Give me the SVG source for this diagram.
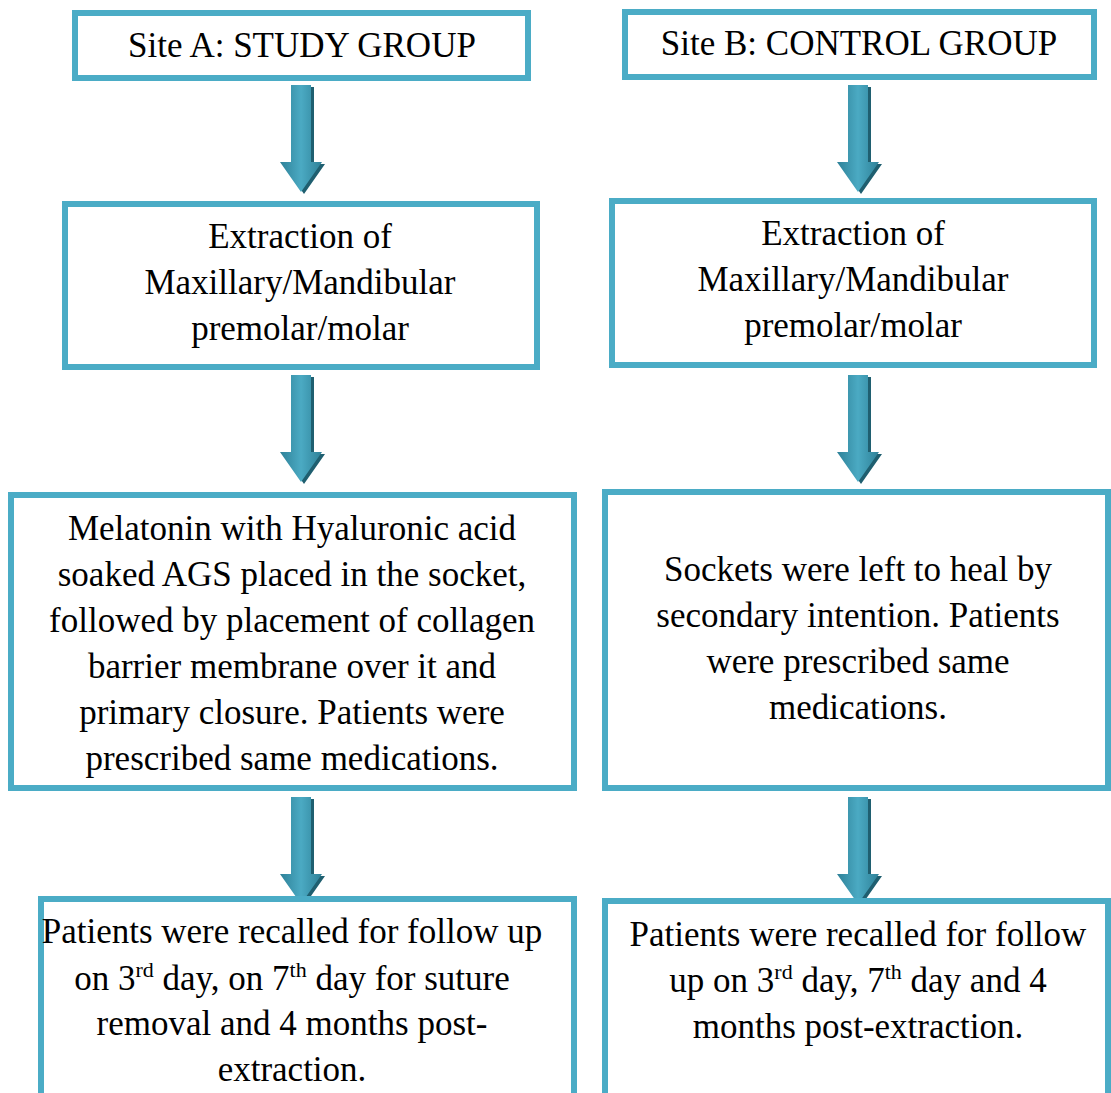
<svg xmlns="http://www.w3.org/2000/svg" width="1111" height="1093" viewBox="0 0 1111 1093">
<defs>
<linearGradient id="ag" x1="0" y1="0" x2="1" y2="0">
<stop offset="0" stop-color="#2E8198"/>
<stop offset="0.5" stop-color="#4BAAC3"/>
<stop offset="1" stop-color="#2E8198"/>
</linearGradient>
<polygon id="arr" points="-10,0 10,0 10,77 21,77 0,107 -21,77 -10,77"/>
</defs>
<style>
.box{fill:#fff;stroke:#4BACC6;stroke-width:6}
.t{font-family:"Liberation Serif","Times New Roman",serif;font-size:35px;fill:#000;text-anchor:middle}
.sh{fill:#1F5F70}
.ar{fill:url(#ag)}
</style>
<rect width="1111" height="1093" fill="#fff"/>
<g id="connectors">
<g transform="translate(301,85)"><use href="#arr" class="sh" x="3" y="2"/><use href="#arr" class="ar"/></g>
<g transform="translate(858,85)"><use href="#arr" class="sh" x="3" y="2"/><use href="#arr" class="ar"/></g>
<g transform="translate(301,375)"><use href="#arr" class="sh" x="3" y="2"/><use href="#arr" class="ar"/></g>
<g transform="translate(858,375)"><use href="#arr" class="sh" x="3" y="2"/><use href="#arr" class="ar"/></g>
<g transform="translate(301,797)"><use href="#arr" class="sh" x="3" y="2"/><use href="#arr" class="ar"/></g>
<g transform="translate(858,797)"><use href="#arr" class="sh" x="3" y="2"/><use href="#arr" class="ar"/></g>
</g>
<g id="a1"><rect class="box" x="75" y="13" width="453" height="65"/><text class="t" x="302" y="57">Site A: STUDY GROUP</text></g>
<g id="b1"><rect class="box" x="625" y="12" width="469" height="65"/><text class="t" x="859" y="55">Site B: CONTROL GROUP</text></g>
<g id="a2"><rect class="box" x="65" y="204" width="472" height="163"/>
<text class="t" x="300" y="248">Extraction of</text>
<text class="t" x="300" y="294">Maxillary/Mandibular</text>
<text class="t" x="300" y="340">premolar/molar</text></g>
<g id="b2"><rect class="box" x="612" y="201" width="482" height="164"/>
<text class="t" x="853" y="245">Extraction of</text>
<text class="t" x="853" y="291">Maxillary/Mandibular</text>
<text class="t" x="853" y="337">premolar/molar</text></g>
<g id="a3"><rect class="box" x="11" y="495" width="563" height="293"/>
<text class="t" x="292" y="540">Melatonin with Hyaluronic acid</text>
<text class="t" x="292" y="586">soaked AGS placed in the socket,</text>
<text class="t" x="292" y="632">followed by placement of collagen</text>
<text class="t" x="292" y="678">barrier membrane over it and</text>
<text class="t" x="292" y="724">primary closure. Patients were</text>
<text class="t" x="292" y="770">prescribed same medications.</text></g>
<g id="b3"><rect class="box" x="605" y="492" width="503" height="296"/>
<text class="t" x="858" y="581">Sockets were left to heal by</text>
<text class="t" x="858" y="627">secondary intention. Patients</text>
<text class="t" x="858" y="673">were prescribed same</text>
<text class="t" x="858" y="719">medications.</text></g>
<g id="a4"><rect class="box" x="41" y="899" width="533" height="220"/>
<text class="t" x="292" y="943">Patients were recalled for follow up</text>
<text class="t" x="292" y="990">on 3<tspan font-size="22" dy="-13">rd</tspan><tspan dy="13"> day, on 7</tspan><tspan font-size="22" dy="-13">th</tspan><tspan dy="13"> day for suture</tspan></text>
<text class="t" x="292" y="1035">removal and 4 months post-</text>
<text class="t" x="292" y="1081">extraction.</text></g>
<g id="b4"><rect class="box" x="605" y="901" width="503" height="220"/>
<text class="t" x="858" y="946">Patients were recalled for follow</text>
<text class="t" x="858" y="992">up on 3<tspan font-size="22" dy="-13">rd</tspan><tspan dy="13"> day, 7</tspan><tspan font-size="22" dy="-13">th</tspan><tspan dy="13"> day and 4</tspan></text>
<text class="t" x="858" y="1038">months post-extraction.</text></g>
</svg>
